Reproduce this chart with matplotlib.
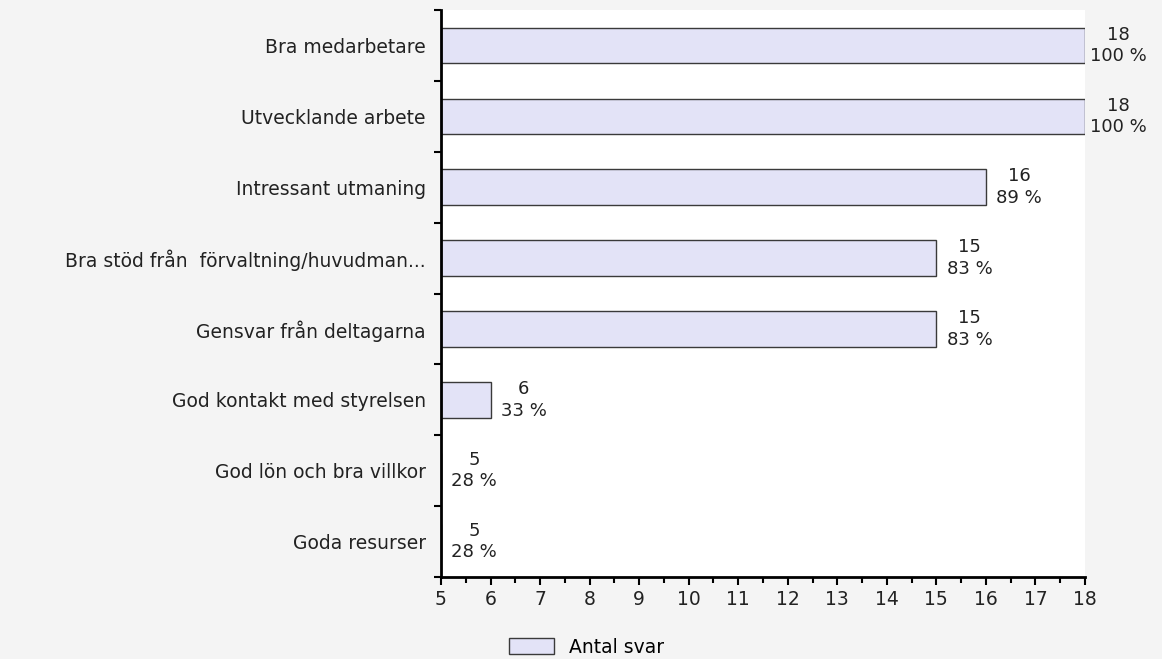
import numpy as np
import matplotlib.pyplot as plt

categories = [
    "Bra medarbetare",
    "Utvecklande arbete",
    "Intressant utmaning",
    "Bra stöd från  förvaltning/huvudman...",
    "Gensvar från deltagarna",
    "God kontakt med styrelsen",
    "God lön och bra villkor",
    "Goda resurser",
]
counts = [18, 18, 16, 15, 15, 6, 5, 5]
percents = [100, 100, 89, 83, 83, 33, 28, 28]
x_min, x_max = 5, 18

fig = plt.figure(figsize=(11.62, 6.59), dpi=100)
fig.patch.set_facecolor("#f4f4f4")
ax = fig.add_axes([0.3795, 0.1244, 0.5542, 0.8604])
ax.set_facecolor("white")

y = np.arange(len(categories))
ax.barh(y, [c - x_min for c in counts], left=x_min, height=0.5,
        color="#e3e3f7", edgecolor="#3a3a3a", linewidth=1.0, label="Antal svar")

for yi, c, p in zip(y, counts, percents):
    ax.annotate(f"{c}\n{p} %", xy=(c, yi), xytext=(24, 0), textcoords="offset points",
                ha="center", va="center", multialignment="center",
                fontsize=13, color="#222222", linespacing=1.25)

ax.set_xlim(x_min, x_max)
ax.set_ylim(len(categories) - 0.5, -0.5)
ax.set_xticks(range(x_min, x_max + 1))
ax.set_xticks(np.arange(x_min + 0.5, x_max, 1.0), minor=True)
ax.set_yticks(y)
ax.set_yticklabels(categories)
ax.set_yticks(np.arange(-0.5, len(categories), 1.0), minor=True)

for s in ["top", "right"]:
    ax.spines[s].set_visible(False)
for s in ["left", "bottom"]:
    ax.spines[s].set_linewidth(2)
    ax.spines[s].set_color("black")

ax.tick_params(axis="y", which="major", length=0, pad=11, labelsize=13.5, labelcolor="#222222")
ax.tick_params(axis="y", which="minor", length=5, width=1.5, direction="out")
ax.tick_params(axis="x", which="major", length=6, width=1.5, direction="out", labelsize=13.5, labelcolor="#222222", pad=3)
ax.tick_params(axis="x", which="minor", length=4, width=1.5, direction="out")

fig.legend(loc="center", bbox_to_anchor=(0.505, 0.018), frameon=False, fontsize=13.5,
           handlelength=2.4, handleheight=0.9, handletextpad=0.8)

fig.savefig("out.png", dpi=100, facecolor=fig.get_facecolor())
